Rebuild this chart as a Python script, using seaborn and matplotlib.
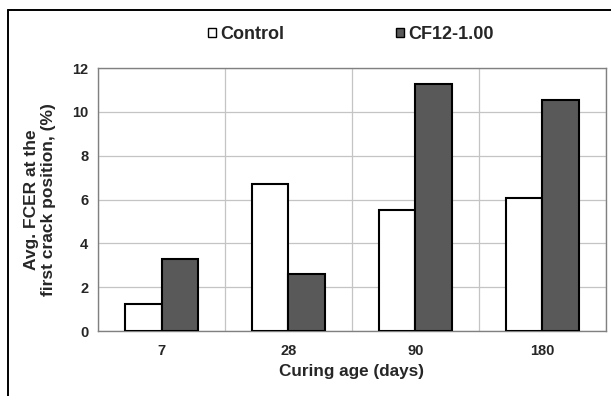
import matplotlib
matplotlib.use("Agg")
import matplotlib.pyplot as plt
import seaborn as sns
import pandas as pd
from matplotlib.lines import Line2D
from matplotlib.patches import Patch

ages = ["7", "28", "90", "180"]
control = [1.22, 6.72, 5.52, 6.08]
cf12 = [3.30, 2.59, 11.25, 10.54]
series_names = ["Control", "CF12-1.00"]
y_ticks = [0, 2, 4, 6, 8, 10, 12]

df = pd.DataFrame({
    "age": ages * 2,
    "value": control + cf12,
    "series": [series_names[0]] * len(ages) + [series_names[1]] * len(ages),
})

sns.set_theme(style="white")
plt.rcParams["font.family"] = ["Liberation Sans", "DejaVu Sans"]
plt.rcParams["font.weight"] = "bold"

fig = plt.figure(figsize=(6.11, 3.96), dpi=100)
ax = fig.add_axes([0.1604, 0.1641, 0.8314, 0.6641])

palette = {series_names[0]: "#ffffff", series_names[1]: "#595959"}
sns.barplot(data=df, x="age", y="value", hue="series", order=ages,
            hue_order=series_names, palette=palette, width=0.57, gap=0,
            edgecolor="black", linewidth=1.5, ax=ax, legend=False, zorder=3,
            saturation=1)

ax.set_ylim(0, 12)
ax.set_xlim(-0.5, 3.5)
ax.set_yticks(y_ticks)
ax.set_yticklabels([str(t) for t in y_ticks], fontsize=10.5, fontweight="bold")
ax.set_xticks(range(len(ages)))
ax.set_xticklabels(ages, fontsize=10.5, fontweight="bold")
ax.set_xticks([-0.5, 0.5, 1.5, 2.5, 3.5], minor=True)
ax.tick_params(axis="x", which="major", length=0, pad=9)
ax.tick_params(axis="x", which="minor", length=4, direction="out", color="#808080", width=1)
ax.tick_params(axis="y", which="major", length=6, direction="inout", color="#808080", width=1, pad=4)
ax.grid(True, axis="y", which="major", color="#c4c4c4", linewidth=0.9, zorder=0)
ax.grid(True, axis="x", which="minor", color="#c4c4c4", linewidth=0.9, zorder=0)
ax.set_axisbelow(True)
for s in ax.spines.values():
    s.set_visible(True)
    s.set_color("#808080")
    s.set_linewidth(1)

ax.set_xlabel("Curing age (days)", fontsize=12.3, fontweight="bold")
ax.set_ylabel("Avg. FCER at the\nfirst crack position, (%)", fontsize=12.5,
              fontweight="bold", linespacing=1.15)
ax.yaxis.set_label_coords(-0.083, 0.5)
ax.xaxis.set_label_coords(0.5, -0.127)

handles = [Patch(facecolor=palette[n], edgecolor="black", linewidth=1) for n in series_names]
fig.legend(handles, series_names, loc="center", bbox_to_anchor=(0.574, 0.913),
           ncol=2, frameon=False, handlelength=0.45, handleheight=0.45,
           handletextpad=0.22, columnspacing=6.2, prop={"weight": "bold", "size": 13})

fig.add_artist(Line2D([8/611, 8/611], [0, 1 - 10/396], transform=fig.transFigure,
                      color="black", linewidth=1.4))
fig.add_artist(Line2D([8/611, 1], [1 - 10/396, 1 - 10/396], transform=fig.transFigure,
                      color="black", linewidth=1.4))

fig.savefig("out.png", dpi=100)
